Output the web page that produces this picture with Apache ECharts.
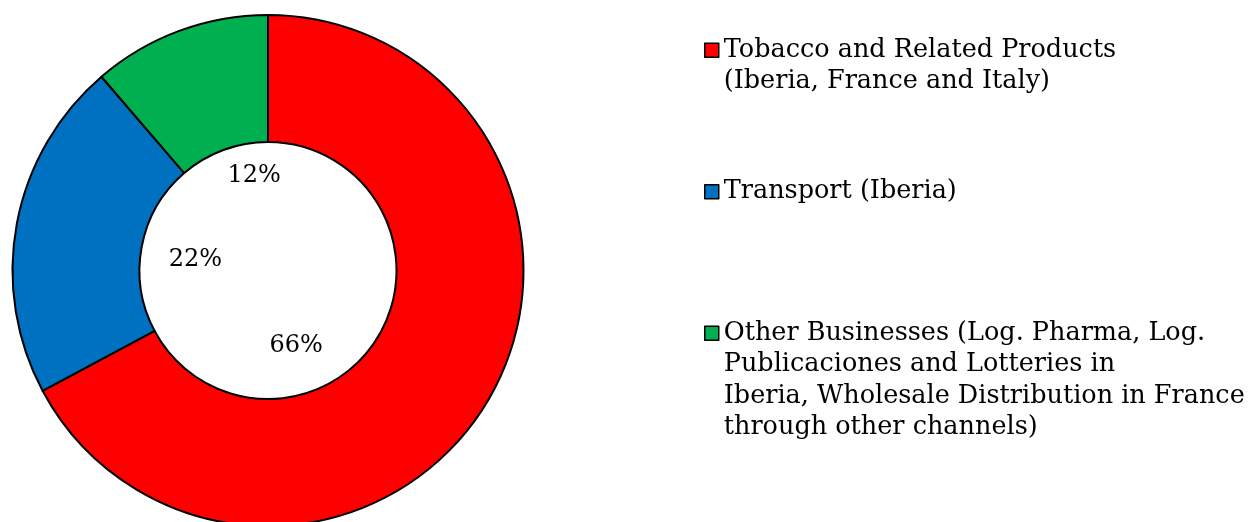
<!DOCTYPE html>
<html>
<head>
<meta charset="utf-8">
<script src="https://cdn.jsdelivr.net/npm/echarts@6/dist/echarts.min.js"></script>
<style>
  html, body { margin: 0; padding: 0; background: #fff; }
  #chart { width: 1248px; height: 522px; }
</style>
</head>
<body>
<div id="chart"></div>
<script>
  // segments
  const names = [
    'Tobacco and Related Products\n(Iberia, France and Italy)',
    'Transport (Iberia)',
    'Other Businesses (Log. Pharma, Log.\nPublicaciones and Lotteries in\nIberia, Wholesale Distribution in France\nthrough other channels)'
  ];
  const values = [67.2, 21.5, 11.3];
  // labels as printed on the chart
  const labelTexts = ['66%', '22%', '12%'];
  const colors = ['#ff0000', '#0070c0', '#00b050'];

  const font = 'DejaVu Serif';
  const lineH = 31.5;
  // nudges so each label sits where the original has it
  const labelPad = [[0, 86, 0, 0], [0, 0, 0, 18], [0, 0, 0, 30]];
  const labelWrap = [['\n\n', '', 33], ['\n', '', 9], ['', '\n', 34]];
  const legendTops = [3, 176, 223];

  const chart = echarts.init(document.getElementById('chart'));

  const legends = names.map((n, i) => {
    const lines = n.split('\n').length;
    return {
      data: [n],
      orient: 'vertical',
      left: 704,
      top: legendTops[i],
      padding: 0,
      icon: 'rect',
      itemWidth: 14,
      itemHeight: 14,
      selectedMode: false,
      itemStyle: {borderColor: '#000', borderWidth: 1.5},
      // empty lines in front keep the marker level with the first line
      formatter: name => '\n'.repeat(lines - 1) + name,
      textStyle: {
        fontFamily: font,
        fontSize: 25.5,
        color: '#000',
        lineHeight: lineH
      }
    };
  });

  chart.setOption({
    animation: false,
    legend: legends,
    series: [
      {
        type: 'pie',
        center: [268, 270.5],
        radius: [128.5, 255.5],
        startAngle: 90,
        clockwise: true,
        silent: true,
        label: {show: false},
        labelLine: {show: false},
        itemStyle: {borderColor: '#000', borderWidth: 2},
        data: names.map((n, i) => ({name: n, value: values[i], itemStyle: {color: colors[i]}}))
      },
      {
        // transparent helper ring that only carries the labels inside the hole
        type: 'pie',
        center: [268, 270.5],
        radius: [0, 160],
        startAngle: 90,
        clockwise: true,
        silent: true,
        itemStyle: {color: 'rgba(0,0,0,0)', borderWidth: 0},
        labelLine: {show: false},
        data: names.map((n, i) => ({
          name: n,
          value: values[i],
          label: {
            show: true,
            position: 'inside',
            formatter: labelWrap[i][0] + labelTexts[i] + labelWrap[i][1],
            fontFamily: font,
            fontSize: 24,
            lineHeight: labelWrap[i][2],
            color: '#000',
            padding: labelPad[i]
          }
        }))
      }
    ]
  });
</script>
</body>
</html>
